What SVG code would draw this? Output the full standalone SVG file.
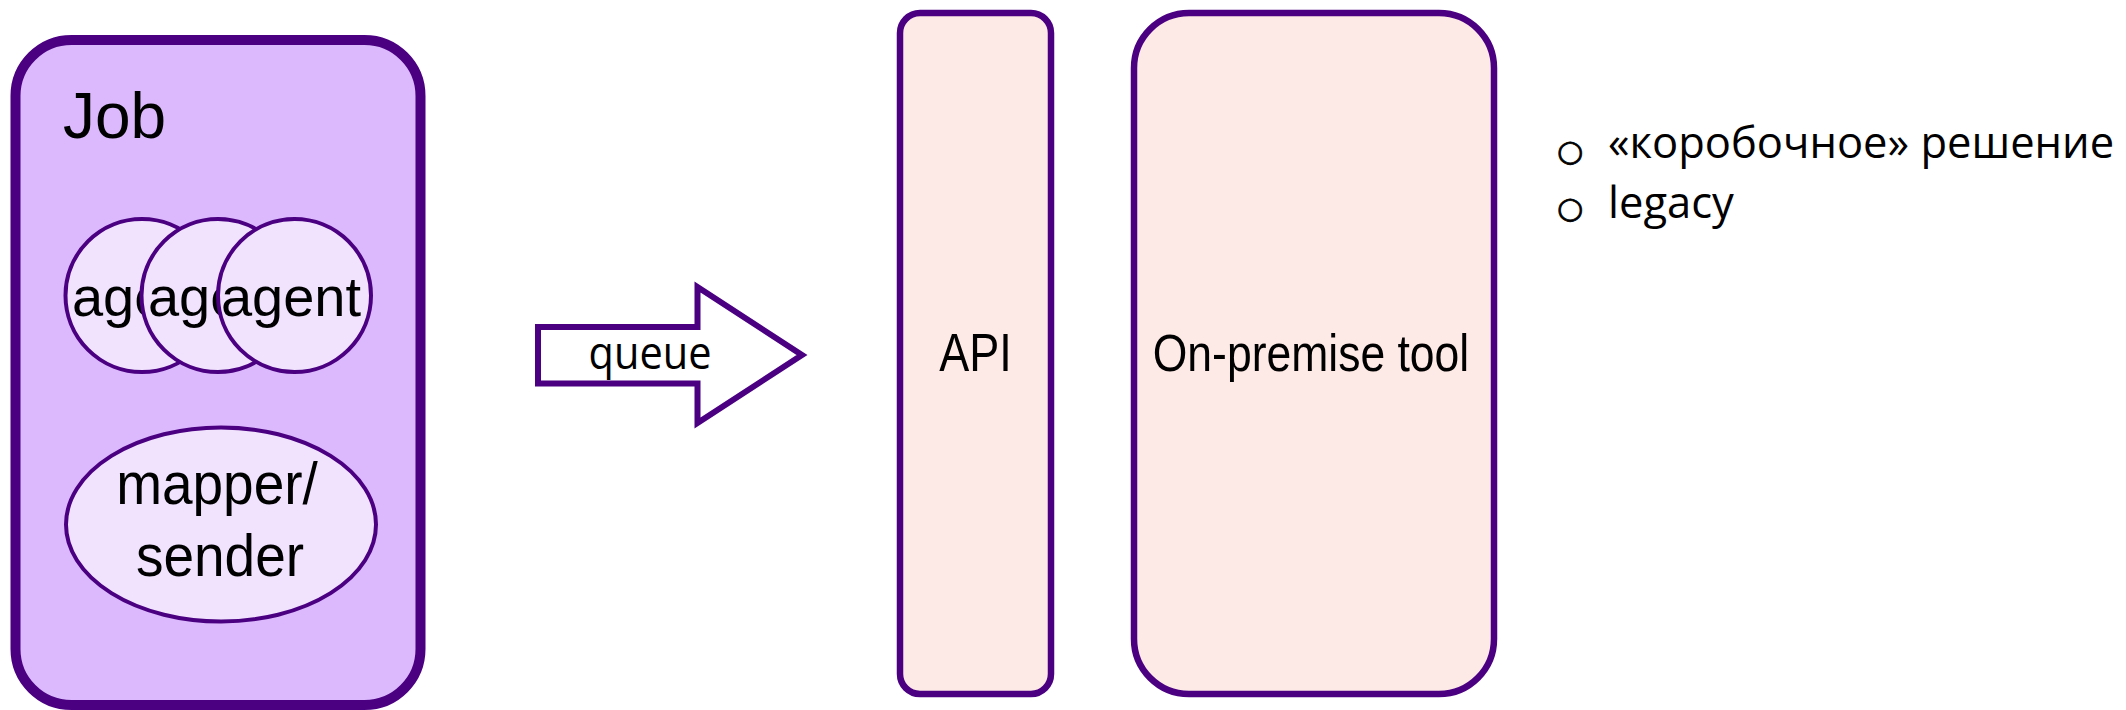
<svg xmlns="http://www.w3.org/2000/svg" width="2126" height="710" viewBox="0 0 2126 710">
<style>
.lbl{font-family:"Liberation Sans",Arial,sans-serif;fill:#000;}
.cal{font-family:"Open Sans","Noto Sans",sans-serif;fill:#000;}
.bul{font-family:"DejaVu Sans",sans-serif;fill:#000;stroke:#000;stroke-width:0.8;}
.agent{fill:#F1E3FE;stroke:#4B0082;stroke-width:4;}
.box{fill:#FDE9E5;stroke:#4B0082;stroke-width:6.5;}
</style>
<rect width="2126" height="710" fill="#fff"/>
<g id="job">
<rect x="15.5" y="40" width="405" height="665" rx="56" ry="56" fill="#DBB9FC" stroke="#4B0082" stroke-width="10"/>
<text class="lbl" x="63" y="138" font-size="64">Job</text>
</g>
<g id="agent1">
<circle class="agent" cx="142" cy="295.5" r="76.5"/>
<text class="lbl" x="142" y="316" font-size="56" text-anchor="middle">agent</text>
</g>
<g id="agent2">
<circle class="agent" cx="218" cy="295.5" r="76.5"/>
<text class="lbl" x="218" y="316" font-size="56" text-anchor="middle">agent</text>
</g>
<g id="agent3">
<circle class="agent" cx="294.5" cy="295.5" r="76.5"/>
<text class="lbl" x="291" y="316" font-size="56" text-anchor="middle">agent</text>
</g>
<g id="mapper">
<ellipse class="agent" cx="221" cy="524.5" rx="155" ry="97"/>
<text class="lbl" x="217" y="0" font-size="55" text-anchor="middle" transform="translate(0,504) scale(1,1.08)">mapper/</text>
<text class="lbl" x="220" y="0" font-size="55" text-anchor="middle" transform="translate(0,576) scale(1,1.08)">sender</text>
</g>
<g id="connectors">
<g id="queue">
<polygon points="538,327 697.5,327 697.5,287 802,355 697.5,423 697.5,383.5 538,383.5" fill="#fff" stroke="#4B0082" stroke-width="6"/>
<text class="cal" x="0" y="0" font-size="41.5" text-anchor="middle" transform="translate(650,369) scale(1,1.08)">queue</text>
</g>
</g>
<g id="api">
<rect class="box" x="900" y="13" width="151" height="681" rx="20" ry="20"/>
<text class="lbl" x="0" y="0" font-size="45" text-anchor="middle" transform="translate(975.5,371) scale(1,1.18)">API</text>
</g>
<g id="onprem">
<rect class="box" x="1134" y="13" width="360" height="681" rx="55" ry="55"/>
<text class="lbl" x="0" y="0" font-size="44.5" text-anchor="middle" transform="translate(1311,371) scale(1,1.18)">On-premise tool</text>
</g>
<g id="notes">
<text class="bul" font-size="30" x="1570" y="161" text-anchor="middle">○</text>
<text class="cal" x="1608" y="158" font-size="43.5">«коробочное» решение</text>
<text class="bul" font-size="30" x="1570" y="218" text-anchor="middle">○</text>
<text class="cal" x="1608" y="218" font-size="43.5">legacy</text>
</g>
</svg>
